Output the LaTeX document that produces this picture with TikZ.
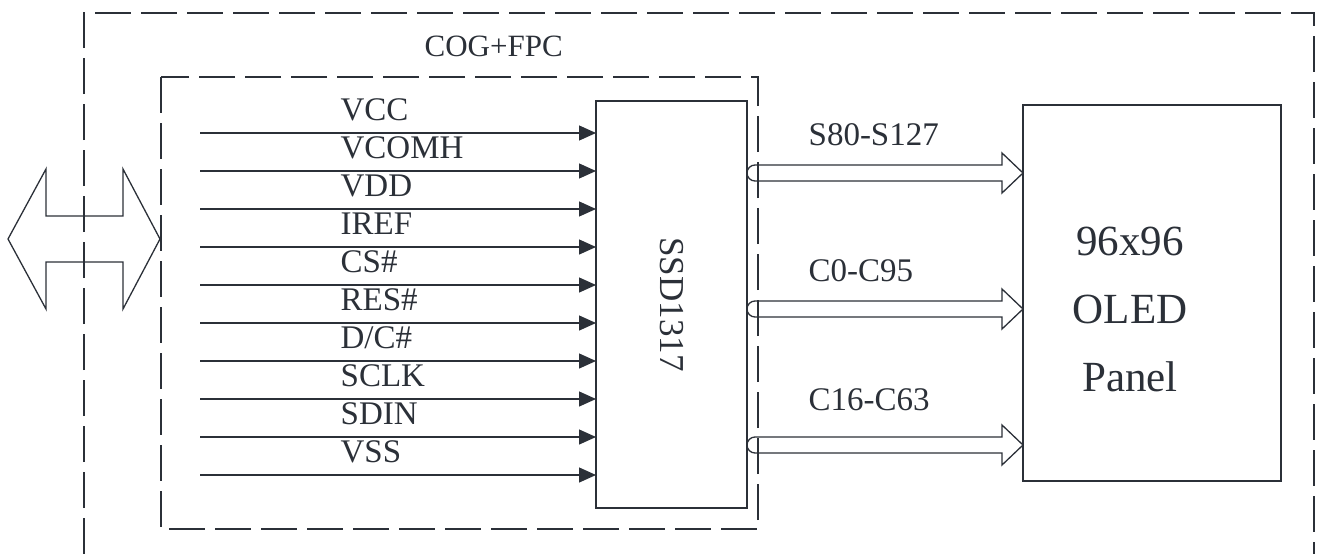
\documentclass[tikz,border=0pt]{standalone}
\usepackage{fontspec}
\setmainfont{Liberation Serif}
\usetikzlibrary{arrows.meta}
\usetikzlibrary{positioning}
\definecolor{ink}{HTML}{2B3038}

\begin{document}
\begin{tikzpicture}[
                x=1pt, y=-1pt,
                line width=1.3pt,
                draw=ink,
                dashline/.style={
                        draw=ink,
                        dash pattern=on 36pt off 10pt
                    },
                box/.style={
                        draw=ink,
                        rectangle,
                        inner sep=0pt,
                        outer sep=0pt
                    },
                lbl/.style={
                        text=ink,
                        inner sep=0pt,
                        font=\fontsize{33}{40}\selectfont
                    },
                pin/.style={
                        draw=ink,
                        -{Triangle[length=17pt, width=15pt]}
                    },
                bus/.style={
                        draw=ink,
                        line join=miter
                    }
            ]
            \useasboundingbox (0,0) rectangle (1317,554);

            % Dashed outlines
            \draw[dashline] (84,554) -- (84,13) -- (1314,13) -- (1314,554);
            \draw[dashline] (161,77) rectangle (758,529);
            \node[lbl, anchor=base west] (cog) at (424,56) {\fontsize{31}{38}\selectfont COG+FPC};

            % Blocks
            \node[box, minimum width=151pt, minimum height=407pt] (ssd) at (671.5,304.5) {};
            \node[lbl, rotate=-90] (ssdtext) at (ssd.center) {\fontsize{35}{40}\selectfont SSD1317};
            \node[box, minimum width=258pt, minimum height=376pt] (oled) at (1152,293) {};
            \node[lbl, align=center, font=\fontsize{43}{68}\selectfont] (oledtext) at (1130,309) {96x96\\OLED\\Panel};

            % Interface arrow
            \draw (8,239) -- (46,169) -- (46,216) -- (123,216) -- (123,169) -- (160,239)
                -- (123,309) -- (123,262) -- (46,262) -- (46,309) -- cycle;

            % Input pins
            \foreach \name [count=\i] in {VCC,VCOMH,VDD,IREF,CS\#,RES\#,D/C\#,SCLK,SDIN,VSS} {
                \coordinate (src\i) at (200,{133+38*(\i-1)});
                \node[lbl, anchor=base west] (pin\i) at (340,{120+38*(\i-1)}) {\name};
                \draw[pin] (src\i) -- (src\i -| ssd.west);
            }

            % Output buses
            \foreach \y/\base/\name [count=\i] in {173/145/S80-S127, 309/281/C0-C95, 445/410/C16-C63} {
                \coordinate (bs\i) at (ssd.east |- 0,\y);
                \coordinate (bt\i) at (oled.west |- 0,\y);
                \node[lbl, anchor=base west] (bus\i) at (808,\base) {\name};
                \draw[bus] ([shift={(8pt,8pt)}]bs\i) arc[start angle=90, end angle=270, radius=8pt]
                    -- ([shift={(-21pt,-8pt)}]bt\i) -- ([shift={(-21pt,-20pt)}]bt\i) -- (bt\i)
                    -- ([shift={(-21pt,20pt)}]bt\i) -- ([shift={(-21pt,8pt)}]bt\i) -- cycle;
            }

        \end{tikzpicture}
\end{document}
